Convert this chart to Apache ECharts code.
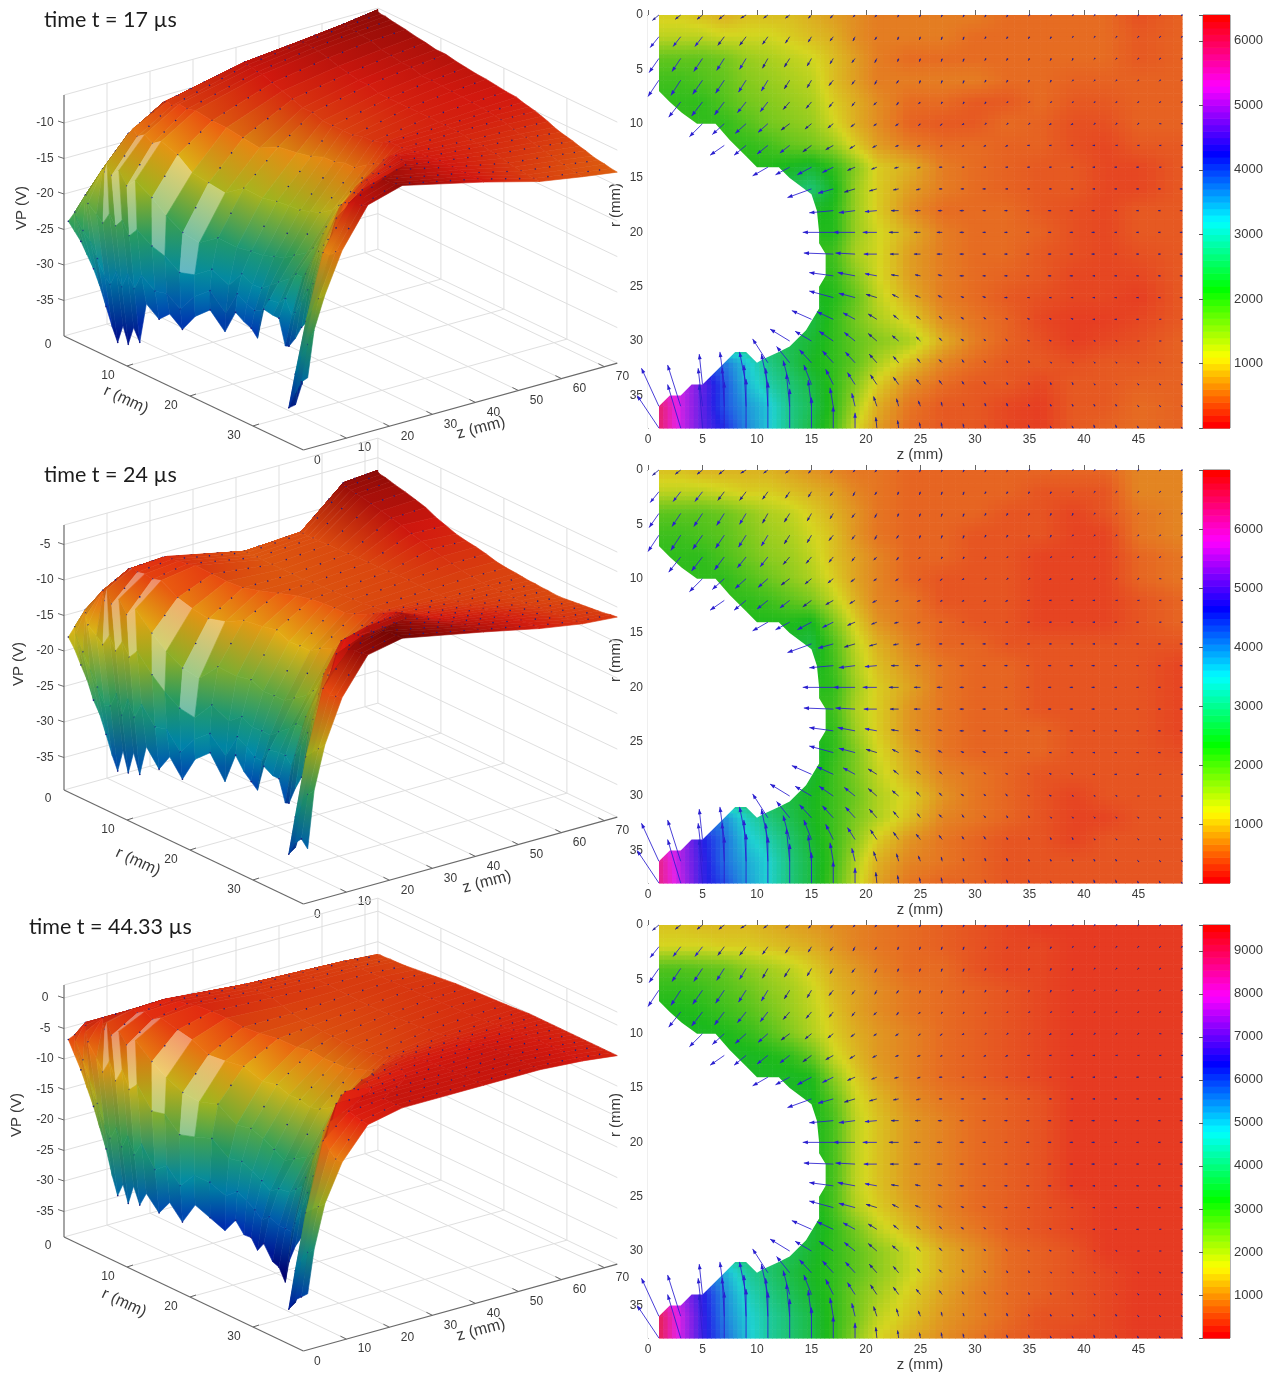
<!DOCTYPE html>
<html><head><meta charset="utf-8">
<style>html,body{margin:0;padding:0;background:#fff}#c{width:1279px;height:1376px}</style>
<script src="https://cdn.jsdelivr.net/npm/echarts@6/dist/echarts.min.js"></script></head>
<body><div id="c"></div><script>
// ---------- density maps (hundreds of units) ----------
const heatZ=[1,3,5,7,9,11,13,15,17,19,21,24,27,30,33,36,39,42,45,49];
const heatR=[0,2,4,6,8,10,12,14,16,18,20,22,24,26,28,30,32,34,36,38];
const heat1=[
[10,10,9,8,9,9,9,8,7,6,5,5,5,5,4,4,4,4,2.5,3.5],
[12,12,12,11,11,11,10,9,8,6,5,5,5,4,4,4,4,4,3,3.5],
[17,17,17,16,14,13,12,11,9,7,5,4,4,4,4,4,4,4,3,3.5],
[19,19,18,17,15,14,13,12,9,7,5,5,5,5,4,4,3.5,3.5,3.5,3.5],
[20,20,20,18,16,15,14,13,10,8,6,4,4,3,3,4,3,3,3.5,3.5],
[20,20,20,20,18,16,15,14,11,8,6,3.5,3,3,4,3.5,2.5,2.5,3.5,3.5],
[20,20,20,20,20,19,17,16,14,10,7,5,4,4,3.5,3.5,2.5,2,3,3],
[20,20,20,20,21,21,22,23,20,15,10,8,5,4,3.5,3,3,2,2,3],
[22,22,22,22,22,23,25,27,22,14,10,7,5,4,3.5,3,3,2,2,3],
[22,22,22,22,22,22,22,22,21,14,10,6,4,4,4,3,2.5,2,3,3],
[21,21,21,21,21,21,21,21,21,14,11,8,5,4,4,3.5,2.5,2,3,3],
[20,20,20,20,20,20,20,20,19,13,11,7,5,4,4,3,2.5,2,2.5,3],
[21,21,21,21,21,21,21,21,20,15,11,7,5,4,3.5,3,2,2,2,3],
[22,22,22,22,22,22,22,22,21,17,12,8,5,4,3,2.5,2,2,1.5,3],
[24,24,24,24,24,24,24,24,20,16,13,10,6,4.5,3.5,2,1.5,1.5,2,3],
[26,26,26,26,26,26,25,23,20,17,15,13,8,5,3.5,2.5,1.5,2,2.5,3.5],
[42,42,40,38,33,28,25,22,20,17,13,9,5.5,4,3,3,2.5,3,3,3.5],
[55,52,46,40,34,30,27,24,20,15,10,6,4,3,3,2,3,3,3.5,3.5],
[60,52,46,40,36,33,28,25,20,13,8,4.5,3,3,2,1.5,3,3,4,3.5],
[60,52,46,42,37,33,28,24,19,11,7,4,3,3,2,1.5,3,3.5,4,3.5]];
const heat2=[
[10,10,9,9,9,9,8,7,6,5,5,4,4,4,4,4,4,4,6,6],
[13,13,13,12,11,11,10,9,8,6,5,4,4,4,4,3,3,3,6,6],
[19,19,19,18,16,14,13,11,9,7,5,4,4,4,3,3,2,3,5,6],
[21,21,20,19,17,15,14,12,10,7,5,4,4,3,3,3,2,2,5,6],
[22,22,22,20,18,16,15,13,10,8,6,4,4,3,3,2,2,2,4,5],
[22,22,22,22,20,18,16,14,11,8,6,4,3,3,3,2,2,2,4,5],
[22,22,22,22,22,21,19,17,13,9,6,5,3,3,3,2,2,2,3,4],
[23,23,23,23,23,23,23,24,17,11,7,5,4,3,3,2,2,2,3,4],
[24,24,24,24,24,24,25,26,20,13,9,6,4,4,3,3,3,3,3,3],
[24,24,24,24,24,24,25,25,21,14,10,7,5,4,4,3,3,3,3,2],
[23,23,23,23,23,23,23,23,22,15,11,8,5,4,4,3,3,3,3,2],
[22,22,22,22,22,22,22,22,21,14,11,7,5,4,4,3,3,3,3,2],
[23,23,23,23,23,23,23,23,22,15,11,7,5,4,4,4,3,3,3,2],
[25,25,25,25,25,25,25,25,22,17,12,8,5,4,4,4,3,3,3,2.5],
[26,26,26,26,26,26,26,25,21,17,13,9,6,5,4,3,3,3,3,3],
[28,28,28,28,28,27,26,24,21,18,14,11,7,5,4,3,2,3,3,3],
[44,44,42,40,34,30,27,24,21,17,14,10,6,5,4,3,2,2,3,3],
[60,55,47,42,36,33,29,25,21,16,11,7,5,4,3,3,2,3,3,3],
[64,55,48,42,38,35,30,26,21,14,9,6,5,4,3,3,3,3,3,3],
[64,56,48,44,39,35,30,26,20,13,8,5,4,4,3,3,3,3,3,3]];
const heat3=[
[14,14,13,13,13,12,11,10,9,8,7,6,5,4,3,2,2,2,2,2],
[16,16,16,15,15,14,13,12,10,8,7,6,5,4,3,3,2,2,2,2],
[27,27,26,25,22,20,18,15,12,10,8,6,6,4,3,3,2,2,2,2],
[30,30,29,27,25,22,20,17,13,11,9,7,6,5,4,3,2,2,2,2],
[32,32,31,29,27,24,21,18,14,11,9,7,6,5,4,3,2,2,2,2],
[33,33,33,32,30,27,23,19,15,12,10,8,6,5,4,3,2,2,2,2],
[33,33,33,33,33,32,30,25,17,13,10,8,6,5,4,3,2,2,2,2],
[33,33,33,33,33,33,33,32,22,15,11,8,6,5,4,3,2,2,2,2],
[33,33,33,33,33,33,33,33,26,17,13,9,7,6,5,4,2,2,2,2],
[33,33,33,33,33,33,33,33,28,18,14,10,8,6,5,4,2,2,2,2],
[33,33,33,33,33,33,33,33,28,18,14,10,8,6,5,4,2,2,2,2],
[33,33,33,33,33,33,33,33,28,18,14,10,8,6,5,4,2,2,2,2],
[33,33,33,33,33,33,33,33,28,18,14,10,8,6,5,4,2,2,2,2],
[34,34,34,34,34,34,34,34,28,19,15,11,8,6,5,4,3,2,2,2],
[36,36,36,36,36,36,36,35,30,24,18,13,9,7,5,4,3,2,2,2],
[40,40,40,40,40,40,38,34,30,26,22,17,12,9,6,5,4,2,2,2],
[60,60,58,52,44,40,36,33,30,26,22,17,12,9,6,5,4,3,2,2],
[85,75,65,55,47,42,38,34,30,24,20,15,11,8,6,5,4,3,2,2],
[92,78,66,56,49,44,40,36,30,24,18,14,10,8,6,4,4,3,2,2],
[92,78,66,58,50,44,40,36,30,22,16,12,9,7,5,4,3,3,2,2]];
const heatMax=[6400,7000,9600];
// cathode outline in the right-hand maps
const holeZ=[0,1,1,2,3.1,4.5,6.2,7.5,9,10,12,13,15,15.5,15.7,15.7,16.3,16.3,15.7,15.7,14.5,13,12,10.5,10,9,8,6,5,4,3,2,1,1,0];
const holeR=[0,0,7,8,9,10,10,11.5,13,14,14,15,16.5,18,20,21,22,24,25,27,29,30.5,31,31.7,32,31,31,33,34,34,35,35,36,38,38];
// ---------- field arrows (tenths of a mm on the map) ----------
const arrowZ=[1,3,5,7,9,11,13,15,17,19,21,23,25,27,29,31,33,35,37,39,41,43,45,47,49];
const arrowR=[0,2,4,6,8,10,12,14,16,18,20,22,24,26,28,30,32,34,36,38];
const arrowU=[
[-6,-5,-5,-5,-5,-4,-4,-3,-3,-2,-2,-1,-1,-1,-1,-1,-1,-1,-1,-1,-1,-1,-1,-1,-1],
[-8,-7,-7,-6,-6,-5,-4,-3,-3,-2,-2,-1,-1,-1,-1,-1,-1,-1,-1,-1,-1,-1,-1,-1,-1],
[-9,-8,-8,-7,-6,-5,-5,-4,-3,-3,-2,-1,-1,-1,-1,-1,-1,-1,-1,-1,-1,-1,-1,-1,-1],
[-10,-9,-9,-8,-7,-6,-5,-4,-4,-3,-2,-2,-1,-1,-1,-1,-1,-1,-1,-1,-1,-1,-1,-1,-1],
[0,-11,-10,-9,-8,-7,-6,-5,-4,-3,-3,-2,-2,-1,-1,-1,-1,-1,-1,-1,-1,-1,-1,-1,-1],
[0,0,-12,-11,-10,-9,-8,-6,-5,-4,-3,-3,-2,-2,-2,-1,-1,-1,-2,-2,-1,-1,-1,-1,-1],
[0,0,0,-13,-11,-10,-9,-8,-7,-5,-4,-3,-3,-2,-2,-2,-2,-2,-2,-2,-2,-1,-1,-1,-1],
[0,0,0,0,0,-14,-13,-13,-10,-7,-5,-4,-3,-3,-2,-2,-2,-2,-2,-2,-2,-2,-2,-1,-1],
[0,0,0,0,0,0,0,-22,-14,-10,-7,-5,-4,-3,-3,-3,-2,-2,-2,-2,-2,-2,-2,-2,-2],
[0,0,0,0,0,0,0,0,-22,-15,-11,-7,-5,-4,-4,-3,-3,-3,-3,-3,-3,-2,-2,-2,-2],
[0,0,0,0,0,0,0,0,-28,-20,-13,-9,-6,-5,-4,-3,-3,-3,-3,-3,-3,-2,-2,-2,-2],
[0,0,0,0,0,0,0,0,-27,-18,-12,-8,-6,-5,-4,-3,-3,-3,-3,-3,-3,-2,-2,-2,-2],
[0,0,0,0,0,0,0,0,-22,-16,-11,-7,-5,-4,-4,-3,-3,-3,-3,-3,-2,-2,-2,-2,-2],
[0,0,0,0,0,0,0,0,-22,-15,-10,-6,-5,-4,-3,-3,-3,-2,-2,-2,-2,-2,-2,-2,-2],
[0,0,0,0,0,0,0,-18,-15,-11,-8,-5,-4,-3,-3,-2,-2,-2,-2,-2,-2,-2,-2,-1,-1],
[0,0,0,0,0,0,-18,-15,-13,-10,-8,-6,-4,-3,-3,-2,-2,-2,-2,-1,-1,-1,-1,-1,-1],
[0,0,0,0,0,-14,-12,-11,-10,-9,-7,-5,-3,-3,-2,-2,-1,-1,-1,-1,-1,-1,-1,-1,-1],
[0,0,-3,-4,-6,-6,-6,-7,-7,-7,-6,-5,-4,-3,-2,-2,-1,-1,-1,-1,-1,-1,-1,-1,-1],
[-16,-12,-4,-2,-2,-2,-3,-3,-3,-3,-3,-2,-2,-1,-1,-1,-1,-1,-1,-1,-1,-1,-1,-1,-1],
[-20,-12,-3,0,0,0,0,0,0,0,-1,-1,-1,-1,-1,-1,-1,-1,-1,-1,-1,-1,-1,-1,-1]];
const arrowV=[
[5,4,4,4,3,3,3,3,3,2,2,2,2,2,2,2,2,1,1,1,1,1,1,1,1],
[10,9,9,8,8,7,6,5,4,4,3,3,3,3,3,2,2,2,2,1,1,1,1,1,1],
[13,12,12,11,10,9,8,7,5,4,4,3,3,3,3,2,2,2,2,2,1,1,1,1,1],
[15,14,13,12,11,10,8,7,5,4,4,3,3,3,3,2,2,2,2,1,1,1,1,1,1],
[0,14,13,12,10,9,7,6,5,4,3,3,2,2,2,2,1,1,1,1,1,1,1,1,1],
[0,0,12,10,9,8,6,5,4,3,2,2,2,2,1,1,1,1,1,1,1,1,1,0,0],
[0,0,0,9,9,8,7,6,4,3,2,1,1,1,1,1,1,0,0,0,0,0,0,0,0],
[0,0,0,0,0,8,7,7,5,3,2,1,1,0,0,0,0,0,0,0,0,0,0,0,0],
[0,0,0,0,0,0,0,8,4,3,2,1,1,0,0,0,0,0,0,0,0,0,0,0,0],
[0,0,0,0,0,0,0,0,2,2,1,0,0,0,0,0,0,0,0,0,0,0,0,0,0],
[0,0,0,0,0,0,0,0,0,0,0,0,0,0,0,0,0,0,0,0,0,0,0,0,0],
[0,0,0,0,0,0,0,0,-1,-1,0,0,0,0,0,0,0,0,0,0,0,0,0,0,0],
[0,0,0,0,0,0,0,0,-3,-3,-2,-1,-1,-1,0,0,0,0,0,0,0,0,0,0,0],
[0,0,0,0,0,0,0,0,-6,-4,-3,-3,-2,-2,-1,-1,0,0,0,0,0,0,0,0,0],
[0,0,0,0,0,0,0,-8,-7,-6,-5,-4,-3,-3,-2,-2,-1,-1,-1,-1,0,0,0,0,0],
[0,0,0,0,0,0,-11,-9,-9,-8,-7,-5,-4,-3,-2,-2,-2,-1,-1,-1,-1,-1,0,0,0],
[0,0,0,0,0,-22,-15,-12,-11,-10,-8,-6,-4,-3,-3,-2,-2,-2,-1,-1,-1,-1,-1,-1,0],
[0,0,-28,-30,-30,-28,-22,-18,-14,-11,-9,-7,-5,-4,-3,-3,-2,-2,-2,-2,-1,-1,-1,-1,-1],
[-35,-38,-35,-35,-38,-35,-30,-24,-17,-12,-9,-7,-5,-4,-3,-3,-3,-2,-2,-2,-2,-2,-1,-1,-1],
[-30,-40,-40,-42,-45,-42,-36,-28,-20,-14,-10,-7,-5,-5,-4,-3,-3,-3,-2,-2,-3,-3,-2,-2,-1]];
// ---------- 3D potential surfaces ----------
const surfR=[0,1,2,3,4,5,6,7,7.5,8,8.5,9,9.5,10,11,12,13,14,15,16,17,18,19,20,21,22,23,24,25,26,27,28,29,30,31,32,33,34,35,36,37,38];
const surfEdgeZ=[1,1,1,1,1,1,1,1,1.5,2,2.5,3,3.7,4.5,6,7,8.5,10,12,14,15,15.5,15.7,15.7,15.7,16.3,16.3,16.3,15.7,15.7,15.7,15,14,13,12,10,7,4,1,1,1,1];
const surfNear=[0,1.5,4,8,14,22];
const surfFar=[42,55,65,73];
const surfFan=[1,1.15,1.35,1.6,1.6,1.6,1.6,1.6,1.6,1.6];
const vp1=[
[-24,-23,-21,-18,-14,-11,-8.5,-7.7,-7,-6.3],[-25,-23,-21,-18,-14,-11,-8.5,-7.7,-7,-6.3],[-26,-23,-21,-18,-14,-11,-8.5,-7.7,-7,-6.3],[-27.5,-23.5,-21,-18,-14,-11,-8.5,-7.7,-7,-6.3],
[-29,-25,-21,-18,-14,-11,-8.5,-7.7,-7,-6.3],[-31,-26,-21.5,-18,-14,-11,-8.5,-7.7,-7,-6.3],[-33.5,-28,-22,-18,-14,-11,-8.5,-7.7,-7,-6.3],[-36,-30,-23,-18,-14,-11,-8.5,-7.7,-7,-6.3],
[-38,-31,-24,-18.5,-14,-11,-8.5,-7.7,-7,-6.5],[-35.5,-29,-22.5,-17.5,-13.5,-11,-8.5,-7.7,-7,-6.5],[-38,-31,-24,-19,-14.5,-11.5,-8.7,-7.7,-7.1,-6.7],[-35.5,-29,-23,-18,-14,-11,-8.7,-7.7,-7.1,-6.7],
[-37.5,-31,-25,-20,-15,-11.5,-9,-7.8,-7.2,-6.9],[-32,-29,-24,-19,-14.5,-11.5,-9,-7.9,-7.3,-7],[-34,-31,-26,-21,-16,-12.5,-9.5,-8.2,-7.5,-7.2],[-33,-31,-27,-23,-18,-13,-10,-8.7,-8,-7.5],
[-35,-33,-29,-25,-19,-14,-10.5,-9,-8.2,-7.7],[-33,-31,-29,-26,-20,-15,-11,-9.3,-8.5,-8],[-32,-30,-28,-25,-19,-14.5,-11,-9.3,-8.5,-8],[-35,-33,-30,-26,-20,-15,-11.5,-9.8,-9,-8.3],
[-32,-30,-28,-26,-20,-15,-11.5,-9.8,-9,-8.5],[-33,-31,-29,-26,-20,-14.5,-11.5,-9.8,-9.1,-8.7],[-33.5,-31.5,-29,-25.5,-20,-14.5,-11.5,-9.8,-9.2,-8.8],[-34.5,-31,-28,-25,-19.5,-14,-11,-9.8,-9.3,-9],
[-30,-29,-27,-24,-19,-14,-11,-9.8,-9.4,-9.2],[-30.5,-29,-26,-23,-18,-13,-10.5,-9.8,-9.5,-9.3],[-30.5,-28,-25,-22,-17,-12.5,-10,-9.8,-9.6,-9.6],[-34,-30,-25,-21,-16,-12,-10,-9.8,-9.7,-9.8],
[-33.5,-29,-24,-19,-15,-11,-10,-9.9,-9.9,-10],[-32,-27,-22,-17,-13,-10,-9.7,-10,-10.1,-10.3],[-30,-25,-20,-16,-12,-9.5,-9.7,-10.2,-10.4,-10.6],[-29,-24,-19,-14,-11,-9,-9.5,-10.2,-10.6,-11],
[-28,-23,-18,-13,-10.5,-9,-9.5,-10.2,-10.7,-11.3],[-28,-22,-17,-13,-10,-8.5,-9.4,-10.4,-11,-11.5],[-28,-23,-16,-11.5,-10,-8.5,-9.3,-10.5,-11.1,-11.7],[-30,-25,-19,-14,-10,-8,-9.3,-10.7,-11.4,-12],
[-34,-29,-20,-12,-9,-7.5,-9.3,-10.9,-11.6,-12.2],[-36,-30,-22,-14,-9,-7.5,-9.3,-11,-11.8,-12.5],[-35.5,-31,-24,-15,-9,-7,-9.3,-11.2,-12,-12.7],[-33,-28,-22,-15,-8.5,-7,-9.3,-11.3,-12.2,-12.8],
[-31,-26,-20,-14,-8.5,-6.8,-9.3,-11.4,-12.3,-13],[-30,-23.5,-19,-13.4,-8,-6.6,-9.3,-11.4,-12.4,-13.1]];
const vp2=[
[-18.2,-17,-15,-13,-11,-10.7,-13,-12.5,-7.2,-6.8],[-19.5,-17,-15,-13,-11,-10.7,-13,-12.5,-7.2,-6.8],[-21.3,-17,-15,-13,-11,-10.7,-13,-12.5,-7.2,-6.8],[-23,-18,-15,-13,-11,-10.7,-13,-12.5,-7.2,-6.8],
[-25.4,-20,-15.5,-13,-11,-10.7,-13,-12.5,-7.2,-6.8],[-27,-22,-16,-13,-11,-10.7,-13,-12.5,-7.2,-6.8],[-29.4,-24,-17,-13,-11,-10.7,-13,-12.5,-7.2,-6.8],[-32,-26,-18,-13.5,-11,-10.7,-13,-12.5,-7.2,-6.8],
[-34,-26,-19,-14.5,-11,-10.7,-13,-12.5,-7.4,-7],[-31,-24,-17.5,-13,-11,-10.7,-13,-12.5,-7.4,-7],[-34,-27,-19.5,-15,-11.5,-11,-13,-12.5,-7.6,-7.2],[-31,-24.5,-18,-14,-11.5,-11,-13,-12.5,-7.7,-7.3],
[-34,-27,-20,-16,-12,-11.2,-13,-12.5,-7.9,-7.5],[-30,-25,-19,-15,-12,-11.2,-13,-12.5,-8,-7.7],[-33,-28,-22,-18,-14,-12,-13,-12.4,-8.3,-8],[-31,-28,-24,-20,-15,-12.5,-13,-12.4,-8.6,-8.4],
[-34,-31,-26,-22,-16,-13,-13,-12.3,-9,-8.8],[-31,-29,-27,-23,-16,-13,-13,-12.2,-9.3,-9.5],[-30,-28,-25,-21,-15.5,-13,-12.8,-12.2,-9.8,-10],[-34,-31,-27,-22,-16,-13,-12.8,-12.2,-10.2,-10.5],
[-30,-28,-26,-22,-16,-13,-12.7,-12.1,-10.6,-10.8],[-32,-29,-27,-23,-17,-13,-12.6,-12,-11,-11],[-33,-30,-27,-23,-17,-13,-12.5,-12,-11.3,-11.3],[-33.8,-30,-27,-23,-17,-13,-12.4,-12,-11.6,-11.7],
[-30,-28,-26,-22,-16,-12.5,-12.2,-12,-11.8,-11.9],[-31,-28,-25,-21,-15.5,-12,-12,-12,-12,-12],[-31,-28,-24,-20,-15,-11.5,-11.6,-12,-12,-12.1],[-34,-29,-24,-19,-14,-11,-11.2,-11.8,-12,-12.2],
[-33.5,-27,-22,-17,-13,-10.5,-11,-11.7,-12,-12.2],[-31,-25,-20,-15,-12,-10,-10.8,-11.6,-12,-12.3],[-29,-23,-18,-13,-11,-9.5,-10.5,-11.4,-12,-12.3],[-27,-21,-16,-12,-10,-9,-10.2,-11.2,-12,-12.4],
[-26,-20,-14,-10,-9,-8.5,-10,-11,-11.9,-12.4],[-26,-19,-13,-10,-8.5,-8,-9.8,-10.8,-11.8,-12.3],[-26,-20,-13,-8.5,-8.5,-8,-9.5,-10.6,-11.7,-12.2],[-28,-22,-16,-11,-8,-7.5,-9.3,-10.4,-11.6,-12.1],
[-32,-26,-17,-9,-7.5,-7,-9,-10.3,-11.5,-12],[-34,-28,-19,-11,-7.5,-6.5,-8.8,-10.2,-11.4,-11.9],[-34,-29,-21,-12,-7.5,-6.2,-8.6,-10.1,-11.3,-11.8],[-32,-27,-20,-12.5,-7.3,-6,-8.5,-10,-11.2,-11.7],
[-31,-25,-19,-12.3,-7.2,-6,-8.4,-10,-11.1,-11.5],[-32,-24,-18,-12,-7,-6,-8.3,-10,-11,-11.4]];
const vp3=[
[-7,-6.5,-5,-5,-5,-4.8,-6,-6.4,-6.7,-7.2],[-9,-6.5,-5,-5,-5,-4.8,-6,-6.4,-6.7,-7.2],[-11,-6.5,-5,-5,-5,-4.8,-6,-6.4,-6.7,-7.2],[-13.5,-7.5,-5,-5,-5,-4.8,-6,-6.4,-6.7,-7.2],
[-16,-10,-5.5,-5,-5,-4.8,-6,-6.4,-6.7,-7.2],[-19,-13,-6.5,-5,-5,-4.8,-6,-6.4,-6.7,-7.2],[-22,-16,-8,-5,-5,-4.8,-6,-6.4,-6.7,-7.2],[-26,-19,-10,-6,-5,-4.8,-6,-6.4,-6.7,-7.2],
[-29,-21,-12,-7,-5.2,-4.8,-6,-6.4,-6.7,-7.1],[-27,-19,-10,-6,-5,-4.8,-6,-6.4,-6.7,-7.1],[-30,-22,-13,-8,-5.5,-5,-6,-6.4,-6.6,-7],[-27,-20,-11,-7,-5,-4.8,-6,-6.4,-6.6,-7],
[-30,-23,-14,-9,-6,-5,-6,-6.4,-6.6,-6.9],[-28,-21,-13,-8,-5.5,-5,-6,-6.4,-6.5,-6.9],[-31,-25,-17,-11,-7,-5.5,-6,-6.4,-6.4,-6.8],[-29,-24,-17,-13,-8,-6,-6.5,-6.5,-6.3,-6.6],
[-32,-27,-20,-15,-10,-7,-7,-6.5,-6.2,-6.4],[-29,-25,-20,-16,-10.5,-7.5,-7.3,-6.6,-6.1,-6.2],[-31,-26,-20,-16,-11,-8,-7.4,-6.6,-6,-6],[-33,-28,-23,-19,-13,-9,-7.6,-6.6,-6,-5.8],
[-31,-27,-23,-19,-13,-9,-7.6,-6.5,-5.9,-5.7],[-33,-28,-24,-20,-14,-9.5,-7.7,-6.4,-5.8,-5.6],[-33,-29,-25,-21,-14,-9.5,-7.6,-6.3,-5.7,-5.5],[-34.6,-30,-26,-22,-14.5,-9.5,-7.5,-6.2,-5.6,-5.4],
[-33,-29,-25,-21,-14,-9,-7.3,-6,-5.5,-5.3],[-35.6,-30,-25,-20,-13,-8.5,-7,-5.8,-5.4,-5.2],[-36,-30,-24,-19,-12,-8,-6.5,-5.6,-5.3,-5.1],[-38,-30,-23,-17,-11,-7,-6,-5.4,-5.2,-5],
[-34,-28,-21,-15,-9,-6,-5.5,-5.1,-5,-5],[-31,-25,-18,-12,-7.5,-5.5,-5,-4.8,-4.8,-5],[-29,-22,-15,-10,-6,-5,-4.8,-4.6,-4.7,-5],[-27,-20,-13,-8,-5.5,-4.8,-4.5,-4.4,-4.6,-5],
[-26,-18,-11,-6,-5,-4.5,-4.3,-4.2,-4.5,-5],[-26,-17,-10,-6,-5,-4.5,-4.2,-4,-4.5,-5],[-27,-18,-9,-4,-4.5,-4.2,-4.1,-4,-4.4,-5],[-29,-21,-12,-6,-4.5,-4,-4,-3.9,-4.4,-5],
[-32,-25,-14,-4,-4,-4,-4,-3.9,-4.4,-5],[-34,-27,-17,-6,-4,-3.8,-3.9,-3.8,-4.3,-5],[-34,-28,-19,-8,-4.3,-3.8,-3.8,-3.8,-4.3,-5],[-32,-26,-18,-9,-4.6,-3.8,-3.8,-3.8,-4.3,-5],
[-31,-24,-17,-10,-4.8,-3.8,-3.8,-3.8,-4.3,-5],[-30,-23,-16,-10,-5,-3.8,-3.8,-3.8,-4.3,-5]];
// ---------- axes ----------
const rTicks=[10,20,30];
const zTicks=[10,20,30,40,50,60,70];
const vTicks=[[-10,-15,-20,-25,-30,-35],[-5,-10,-15,-20,-25,-30,-35],[0,-5,-10,-15,-20,-25,-30,-35]];
const titles=['time t = 17 µs','time t = 24 µs','time t = 44.33 µs'];

const FONT='"Liberation Sans",Arial,sans-serif', TXT='#3a3a3a';
const views=[
 {base:336,k:7.1,floor:336,top:95,cmin:-39,cmax:-4.5,rL:[126,400],zL:[481,428],vL:[22,208]},
 {base:793,k:7.1,floor:790,top:525,cmin:-39,cmax:-5,rL:[138,862],zL:[487,882],vL:[19,664]},
 {base:1242,k:6.1,floor:1237,top:985,cmin:-37,cmax:1,rL:[124,1303],zL:[481,1330],vL:[17,1115]}];
const tops=[15,470,925];
const RMAX=38,ZMAX=73;
const stripeRows=[8,10,12,14,16];
function px(r,z){return 64+6.3*r+4.3*z;}
function fy(r,z){return 3*r-1.19*z;}
const cmStops=[[0,0,0,110],[.12,0,40,170],[.28,0,130,160],[.42,40,150,90],[.55,150,170,30],[.65,215,170,20],[.76,225,90,15],[.86,215,25,15],[1,90,0,0]];
function jetRGB(t){t=Math.max(0,Math.min(1,t));for(let i=1;i<cmStops.length;i++){if(t<=cmStops[i][0]){const a=cmStops[i-1],b=cmStops[i],f=(t-a[0])/(b[0]-a[0]);return [a[1]+(b[1]-a[1])*f,a[2]+(b[2]-a[2])*f,a[3]+(b[3]-a[3])*f];}}return cmStops[8].slice(1);}
function hsvCss(h,s,v){h=((h%360)+360)%360;const c=v*s,x=c*(1-Math.abs((h/60)%2-1)),m=v-c;let r=0,g=0,b=0;
 if(h<60){r=c;g=x}else if(h<120){r=x;g=c}else if(h<180){g=c;b=x}else if(h<240){g=x;b=c}else if(h<300){r=x;b=c}else{r=c;b=x}
 return 'rgb('+Math.round((r+m)*255)+','+Math.round((g+m)*255)+','+Math.round((b+m)*255)+')';}
function css(c){return 'rgb('+c.map(v=>Math.round(Math.max(0,Math.min(255,v)))).join(',')+')';}
function node(i,c){const r0=surfR[i];const z=c<6?surfEdgeZ[i]+surfNear[c]:surfFar[c-6];const r=r0<22?Math.max(0,22-(22-r0)*surfFan[c]):r0;return {r,z};}
const grids=[{left:0,top:0,width:640,height:1376}];
const xAxes=[{gridIndex:0,type:'value',min:0,max:640,show:false}];
const yAxes=[{gridIndex:0,type:'value',min:0,max:1376,inverse:true,show:false}];
const series=[];
const graphicEls=[];
function label(text,x,y,size,rot,font){graphicEls.push({type:'text',silent:true,x:x,y:y,rotation:(rot||0)*Math.PI/180,style:{text:text,x:0,y:0,align:'center',verticalAlign:'middle',fill:TXT,font:size+'px '+(font||FONT)}});}
[0,1,2].forEach(p=>{
 const vw=views[p],vals=[vp1,vp2,vp3][p];
 const items=[];
 const Y=(r,z,h)=>h+fy(r,z);
 const H0=vw.floor,H1=vw.top;
 const G='#dfdfdf',A='#6a6a6a';
 const seg=(x1,y1,x2,y2,col,w)=>items.push({k:'l',x1,y1,x2,y2,col,w});
 zTicks.forEach(z=>{seg(px(0,z),Y(0,z,H0),px(RMAX,z),Y(RMAX,z,H0),G,1);seg(px(0,z),Y(0,z,H0),px(0,z),Y(0,z,H1),G,1);
  seg(px(RMAX,z)-0,Y(RMAX,z,H0),px(RMAX,z)-6,Y(RMAX,z,H0)-3,A,1);
  items.push({k:'t',s:String(z),x:px(RMAX,z)+18,y:Y(RMAX,z,H0)+10});});
 rTicks.forEach(r=>{seg(px(r,0),Y(r,0,H0),px(r,ZMAX),Y(r,ZMAX,H0),G,1);seg(px(r,ZMAX),Y(r,ZMAX,H0),px(r,ZMAX),Y(r,ZMAX,H1),G,1);
  seg(px(r,0),Y(r,0,H0),px(r,0)+6,Y(r,0,H0)-2,A,1);
  items.push({k:'t',s:String(r),x:px(r,0)-19,y:Y(r,0,H0)+10});});
 vTicks[p].forEach(v=>{const y0=vw.base-vw.k*(v+40);
  seg(px(0,0),y0,px(0,ZMAX),y0+fy(0,ZMAX),G,1);seg(px(0,ZMAX),y0+fy(0,ZMAX),px(RMAX,ZMAX),y0+fy(RMAX,ZMAX),G,1);
  seg(px(0,0),y0,px(0,0)-6,y0-2,A,1);
  items.push({k:'t',s:String(v),x:px(0,0)-19,y:y0});});
 seg(px(0,ZMAX),Y(0,ZMAX,H0),px(0,ZMAX),Y(0,ZMAX,H1),G,1);
 seg(px(0,0),H0,px(0,ZMAX),Y(0,ZMAX,H0),G,1);seg(px(0,ZMAX),Y(0,ZMAX,H0),px(RMAX,ZMAX),Y(RMAX,ZMAX,H0),G,1);
 seg(px(0,0),H1,px(0,ZMAX),Y(0,ZMAX,H1),G,1);seg(px(0,ZMAX),Y(0,ZMAX,H1),px(RMAX,ZMAX),Y(RMAX,ZMAX,H1),G,1);
 seg(px(0,0),H0,px(0,0),H1,A,1.2);
 seg(px(0,0),H0,px(RMAX,0),Y(RMAX,0,H0),A,1.2);
 seg(px(RMAX,0),Y(RMAX,0,H0),px(RMAX,ZMAX),Y(RMAX,ZMAX,H0),A,1.2);
 items.push({k:'t',s:'0',x:px(0,0)-16,y:H0+9});
 items.push({k:'t',s:'0',x:px(RMAX,0)+14,y:Y(RMAX,0,H0)+11});
 series.push({type:'custom',xAxisIndex:0,yAxisIndex:0,silent:true,animation:false,progressive:0,clip:false,
  data:items.map((_,i)=>[i]),encode:{x:0,y:0},
  renderItem(params,api){const it=items[api.value(0)];
   if(it.k==='l'){const a=api.coord([it.x1,it.y1]),b=api.coord([it.x2,it.y2]);return {type:'line',shape:{x1:a[0],y1:a[1],x2:b[0],y2:b[1]},style:{stroke:it.col,lineWidth:it.w}};}
   const a=api.coord([it.x,it.y]);return {type:'text',x:a[0],y:a[1],style:{text:it.s,align:'center',verticalAlign:'middle',fill:TXT,font:'12px '+FONT}};}
 });
 label('r (mm)',vw.rL[0],vw.rL[1],16,-25);
 label('z (mm)',vw.zL[0],vw.zL[1],16,15);
 label('VP (V)',vw.vL[0],vw.vL[1],15,90);
 const quads=[];
 for(let i=0;i<surfR.length-1;i++)for(let c=surfFar.length+surfNear.length-2;c>=0;c--)quads.push([i,c]);
 const P=(i,c)=>{const n=node(i,c),v=vals[i][c];return {x:px(n.r,n.z),y:vw.base+fy(n.r,n.z)-vw.k*(v+40),r:n.r,z:n.z,v};};
 const L=[.42,-.5,.76];
 series.push({type:'custom',xAxisIndex:0,yAxisIndex:0,silent:true,animation:false,progressive:0,clip:false,
  data:quads,encode:{x:0,y:1},
  renderItem(params,api){const i=api.value(0),c=api.value(1);
   const a=P(i,c),b=P(i,c+1),d=P(i+1,c+1),e=P(i+1,c);
   const pa=api.coord([a.x,a.y]),pb=api.coord([b.x,b.y]),pd=api.coord([d.x,d.y]),pe=api.coord([e.x,e.y]);
   const u=[(d.r-a.r),(d.z-a.z),(d.v-a.v)*.6],w=[(b.r-e.r),(b.z-e.z),(b.v-e.v)*.6];
   let n=[u[1]*w[2]-u[2]*w[1],u[2]*w[0]-u[0]*w[2],u[0]*w[1]-u[1]*w[0]];
   const len=Math.hypot(n[0],n[1],n[2])||1;n=n.map(x=>x/len);if(n[2]<0)n=n.map(x=>-x);
   const dif=Math.max(0,n[0]*L[0]+n[1]*L[1]+n[2]*L[2]);
   const near=c<=4;
   const ridge=(stripeRows.indexOf(i)>=0&&c>=2&&c<=3)?.38:0;
   const sh=near?.84+.22*dif:.98;
   const tone=v=>{const q=jetRGB((v-vw.cmin)/(vw.cmax-vw.cmin)).map(x=>x*sh);return css(q.map(x=>x+(255-x)*ridge));};
   const v0=(a.v+e.v)/2,v1=(b.v+d.v)/2;
   const x0=(pa[0]+pe[0])/2,y0=(pa[1]+pe[1])/2,x1=(pb[0]+pd[0])/2,y1=(pb[1]+pd[1])/2;
   const fill=new echarts.graphic.LinearGradient(x0,y0,x1,y1,[{offset:0,color:tone(v0)},{offset:1,color:tone(v1)}],true);
   const kids=[{type:'polygon',shape:{points:[pa,pb,pd,pe]},style:{fill:fill,stroke:fill,lineWidth:.6}}];
   if(i%2===0){const n2=Math.max(1,Math.round((b.z-a.z)/3));for(let t=0;t<n2;t++){const f=t/n2;kids.push({type:'circle',shape:{cx:pa[0]+(pb[0]-pa[0])*f,cy:pa[1]+(pb[1]-pa[1])*f,r:.8},style:{fill:'#1c1c80'}});}}
   return {type:'group',children:kids};}
 });
 const gi=grids.length;
 grids.push({left:648,top:tops[p],width:534,height:413});
 xAxes.push({gridIndex:gi,type:'value',min:0,max:49,interval:5,name:'',axisLine:{show:true,lineStyle:{color:'#666',width:1.2}},axisTick:{inside:true,length:5,lineStyle:{color:'#666'}},axisLabel:{color:TXT,fontFamily:FONT,fontSize:12,margin:6,showMaxLabel:false},splitLine:{show:false}});
 yAxes.push({gridIndex:gi,type:'value',min:0,max:38,interval:5,inverse:true,axisLine:{show:true,lineStyle:{color:'#666',width:1.2}},axisTick:{inside:true,length:5,lineStyle:{color:'#666'}},axisLabel:{color:TXT,fontFamily:FONT,fontSize:12,margin:5,showMaxLabel:false},splitLine:{show:false}});
 label('z (mm)',920,tops[p]+440,15);
 label('r (mm)',616,tops[p]+190,15,90);
 const heat=[heat1,heat2,heat3][p],vmax=heatMax[p];
 const cells=[];for(let j=0;j<heatR.length-1;j++)for(let i=0;i<heatZ.length-1;i++)cells.push([j,i]);
 const SUB=5;
 const colour=v=>{const h=360*v*100/vmax;return hsvCss(h,.85,.9-.18*Math.max(0,1-Math.abs(h-125)/100));};
 series.push({type:'custom',xAxisIndex:gi,yAxisIndex:gi,silent:true,animation:false,progressive:0,data:cells,encode:{x:1,y:0},
  renderItem(params,api){const j=api.value(0),i=api.value(1);
   const a=heat[j][i],b=heat[j][i+1],c=heat[j+1][i],d=heat[j+1][i+1];
   const p0=api.coord([heatZ[i],heatR[j]]),p1=api.coord([heatZ[i+1],heatR[j+1]]);
   const w=(p1[0]-p0[0])/SUB,h=(p1[1]-p0[1])/SUB,kids=[];
   for(let s=0;s<SUB;s++)for(let t=0;t<SUB;t++){const fx=(s+.5)/SUB,fy2=(t+.5)/SUB;const v=(a*(1-fx)+b*fx)*(1-fy2)+(c*(1-fx)+d*fx)*fy2;
    kids.push({type:'rect',shape:{x:p0[0]+s*w,y:p0[1]+t*h,width:w+.6,height:h+.6},style:{fill:colour(v)}});}
   return {type:'group',children:kids};}
 });
 series.push({type:'custom',xAxisIndex:gi,yAxisIndex:gi,silent:true,animation:false,clip:true,data:[[0,0]],encode:{x:0,y:1},
  renderItem(params,api){return {type:'polygon',shape:{points:holeZ.map((z,k)=>api.coord([z,holeR[k]]))},style:{fill:'#fff'}};}});
 const arrows=[];arrowR.forEach((r,j)=>arrowZ.forEach((z,i)=>{const u=arrowU[j][i],v=arrowV[j][i];if(u||v)arrows.push([z,r,u,v]);}));
 series.push({type:'custom',xAxisIndex:gi,yAxisIndex:gi,silent:true,animation:false,progressive:0,clip:false,data:arrows,encode:{x:0,y:1},
  renderItem(params,api){const z=api.value(0),r=api.value(1),u=api.value(2)/10,v=api.value(3)/10;
   const a=api.coord([z,r]),b=api.coord([z+u,r+v]);const dx=b[0]-a[0],dy=b[1]-a[1],l=Math.hypot(dx,dy)||1;
   const big=Math.min(3.2,1.2+l*.12),ux=dx/l,uy=dy/l,nx=-uy,ny=ux;
   const col=l>12?'#2a1fd0':'#25208f';
   return {type:'group',children:[{type:'line',shape:{x1:a[0],y1:a[1],x2:b[0],y2:b[1]},style:{stroke:col,lineWidth:1,opacity:.85}},
    {type:'polygon',shape:{points:[[b[0],b[1]],[b[0]-ux*big*1.6+nx*big*.6,b[1]-uy*big*1.6+ny*big*.6],[b[0]-ux*big*1.6-nx*big*.6,b[1]-uy*big*1.6-ny*big*.6]]},style:{fill:col}}]};}
 });
 const cb=grids.length;
 grids.push({left:1203,top:tops[p],width:27,height:413,show:true,backgroundColor:'transparent',borderColor:'#666',borderWidth:1});
 xAxes.push({gridIndex:cb,type:'value',min:0,max:1,show:false});
 yAxes.push({gridIndex:cb,type:'value',min:0,max:vmax,interval:1000,position:'right',axisLine:{show:false},axisTick:{inside:true,length:4,lineStyle:{color:'#555'}},
  axisLabel:{color:TXT,fontFamily:FONT,fontSize:13,margin:4,formatter:v=>(v===0||v%1000!==0||v>=7000&&vmax===7000)?'':String(v)},splitLine:{show:false}});
 const lv=[];for(let q=0;q<64;q++)lv.push([q/64*vmax,(q+1)/64*vmax,q/63]);
 series.push({type:'custom',xAxisIndex:cb,yAxisIndex:cb,silent:true,animation:false,z:1,data:lv,encode:{y:[0,1]},
  renderItem(params,api){const a=api.coord([0,api.value(0)]),b=api.coord([1,api.value(1)]);
   return {type:'rect',shape:{x:a[0],y:b[1],width:b[0]-a[0],height:a[1]-b[1]+.6},style:{fill:hsvCss(360*api.value(2),1,1)}};}});
});
const chart=echarts.init(document.getElementById('c'),null,{renderer:'canvas'});
chart.setOption({animation:false,backgroundColor:'#fff',
 title:[{text:titles[0],left:39,top:4},{text:titles[1],left:39,top:459},{text:titles[2],left:24,top:911}].map(t=>Object.assign(t,{textStyle:{fontFamily:'Lato,"Open Sans",sans-serif',fontWeight:'normal',fontSize:21.5,color:'#1c1c1c'}})),
 grid:grids,xAxis:xAxes,yAxis:yAxes,series:series,graphic:{elements:graphicEls}});
</script></body></html>
